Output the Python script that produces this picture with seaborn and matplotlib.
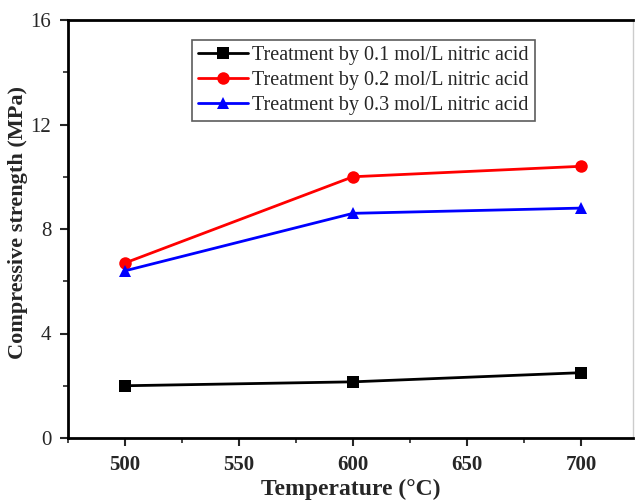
import matplotlib
matplotlib.use("Agg")
import matplotlib.pyplot as plt
import seaborn as sns
import pandas as pd
from matplotlib.ticker import MultipleLocator

temperature = [500, 600, 700]
acid_01 = [2.0, 2.15, 2.5]
acid_02 = [6.7, 10.0, 10.4]
acid_03 = [6.4, 8.6, 8.8]
labels = ["Treatment by 0.1 mol/L nitric acid",
          "Treatment by 0.2 mol/L nitric acid",
          "Treatment by 0.3 mol/L nitric acid"]

df = pd.DataFrame({
    "Temperature": temperature * 3,
    "Strength": acid_01 + acid_02 + acid_03,
    "Series": [labels[0]] * 3 + [labels[1]] * 3 + [labels[2]] * 3,
})

sns.set_style("ticks")
plt.rcParams["font.family"] = ["Liberation Serif", "DejaVu Serif"]

fig = plt.figure(figsize=(6.35, 5.03), dpi=100)
W, H = 635, 503
ax = fig.add_axes([68 / W, 1 - 438 / H, (633 - 68) / W, (438 - 20) / H])

palette = {labels[0]: "black", labels[1]: "#ff0000", labels[2]: "#0000ff"}
markers = {labels[0]: "s", labels[1]: "o", labels[2]: "^"}
sns.lineplot(data=df, x="Temperature", y="Strength", hue="Series", style="Series",
             palette=palette, markers=markers, dashes=False, markersize=9,
             markeredgewidth=0, linewidth=2, ax=ax)

ax.set_xlim(475, 722.8)
ax.set_ylim(0, 16)
ax.xaxis.set_major_locator(MultipleLocator(50))
ax.xaxis.set_minor_locator(MultipleLocator(25))
ax.yaxis.set_major_locator(MultipleLocator(4))
ax.yaxis.set_minor_locator(MultipleLocator(2))
ax.tick_params(which="major", direction="out", length=6, width=1.5, labelsize=15, pad=6)
ax.tick_params(which="minor", direction="out", length=3.5, width=1.2)
for lab in ax.get_xticklabels():
    lab.set_fontweight("bold")

for s in ["left", "bottom", "top"]:
    ax.spines[s].set_linewidth(2)
    ax.spines[s].set_color("black")
ax.spines["right"].set_color("#cccccc")
ax.spines["right"].set_linewidth(1)

ax.set_xlabel("Temperature (\u00b0C)", fontsize=17, fontweight="bold", labelpad=3)
ax.set_ylabel("Compressive strength (MPa)", fontsize=16, fontweight="bold")
ax.yaxis.set_label_coords(-0.071, 0.516)

leg = ax.legend(loc="upper left", bbox_to_anchor=((192 - 68) / (633 - 68), (438 - 40) / (438 - 20)),
                fontsize=14.5, frameon=True, fancybox=False, edgecolor="#333333",
                handlelength=2.5, borderpad=0.3, labelspacing=0.3, handletextpad=0.2,
                borderaxespad=0)
leg.get_frame().set_linewidth(1.2)

fig.savefig("out.png", dpi=100)
